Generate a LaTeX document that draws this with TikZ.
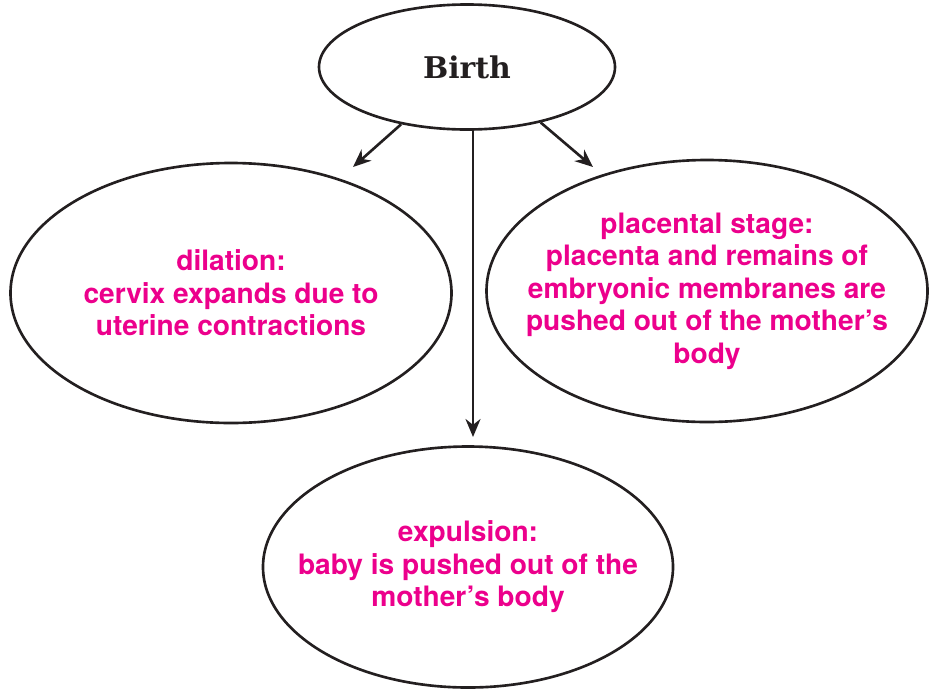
\documentclass[tikz,border=0pt]{standalone}
\usepackage{fontspec}
\usepackage{xcolor}
\newfontfamily\stagefont{TeX Gyre Heros}
\newfontfamily\rootfont{DejaVu Serif}
\definecolor{ink}{HTML}{231F20}
\definecolor{rose}{HTML}{EC008C}
\usetikzlibrary{arrows.meta,shapes.geometric}
\tikzset{
  >={Stealth[length=3.6mm,width=3mm]},
  bubble/.style ={ellipse,draw=ink,line width=1.5pt,inner sep=0pt},
  stagetxt/.style={font=\stagefont\bfseries\fontsize{16}{18.5}\selectfont,
                   text=rose,align=center,inner sep=0pt},
  link/.style   ={->,draw=ink,line width=1.5pt},
}
\begin{document}
\begin{tikzpicture}[x=0.02cm,y=-0.02cm]
\useasboundingbox (0,0) rectangle (935,690);
% top node
\node[bubble,minimum width=296*0.02cm,minimum height=125*0.02cm] (birth) at (467,67) {};
\node[font=\rootfont\bfseries\fontsize{17}{20}\selectfont,text=ink] at (birth) {Birth};
% stages
\node[bubble,minimum width=441*0.02cm,minimum height=260*0.02cm] (dilation) at (231,293) {};
\node[stagetxt] at (dilation) {dilation:\\cervix expands due to\\uterine contractions};
\node[bubble,minimum width=441*0.02cm,minimum height=262*0.02cm] (placental) at (707,291) {};
\node[stagetxt] at (placental) {placental stage:\\placenta and remains of\\embryonic membranes are\\pushed out of the mother’s\\body};
\node[bubble,minimum width=410*0.02cm,minimum height=241*0.02cm] (expulsion) at (468,567) {};
\node[stagetxt] at (expulsion) {expulsion:\\baby is pushed out of the\\mother’s body};
% arrows
\coordinate (ltip) at (353,167);
\coordinate (rtip) at (593,167);
\coordinate (vtip) at (473,437);
\draw[link] (birth.221) -- (ltip);
\draw[link] (birth.-37) -- (rtip);
\draw[link] (birth.south -| vtip) -- (vtip);
\end{tikzpicture}
\end{document}
